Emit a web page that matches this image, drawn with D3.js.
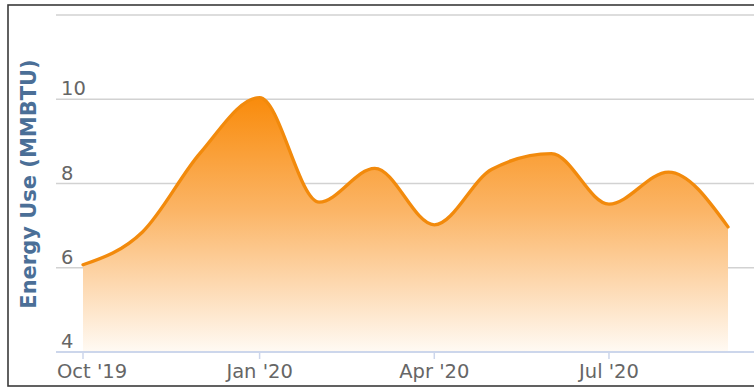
<!DOCTYPE html>
<html>

<head>
    <meta charset="utf-8">
    <title>Energy Use</title>
    <style>
        body {
            margin: 0;
            background: #fff;
        }

        svg {
            font-family: 'DejaVu Sans', Verdana, sans-serif;
        }

        .tick-label {
            fill: #666;
            font-size: 19.5px;
        }

        .grid line {
            stroke: #d2d2d2;
            stroke-width: 1.6;
        }
    </style>
</head>

<body>
    <figure style="margin:0"></figure>

    <script src="https://d3js.org/d3.v7.min.js"></script>

    <script>

        ////////////////////////////////////
        ///////////// Data /////////////////
        ////////////////////////////////////

        // monthly readings, Oct 2019 - Sep 2020
        const months = ['2019-10', '2019-11', '2019-12', '2020-01', '2020-02', '2020-03',
            '2020-04', '2020-05', '2020-06', '2020-07', '2020-08', '2020-09']
        const energyUse = [6.07, 6.85, 8.72, 10.04, 7.56, 8.36, 7.02, 8.34, 8.71, 7.51, 8.27, 6.97]

        const yTicks = [4, 6, 8, 10, 12]
        const xTickDates = ['2019-10', '2020-01', '2020-04', '2020-07']
        const xTickLabels = ["Oct '19", "Jan '20", "Apr '20", "Jul '20"]

        const parseMonth = d3.timeParse('%Y-%m')
        const data = months.map((m, i) => ({ date: parseMonth(m), value: energyUse[i] }))

        ////////////////////////////////////
        ///////////// SVG Setup ////////////
        ////////////////////////////////////

        const width = 754
        const height = 388

        const plot = { left: 56, right: 754, top: 15, bottom: 352 }

        const svg = d3.select('figure')
            .append('svg')
            .attr('width', width)
            .attr('height', height)

        // frame around the chart (right edge falls outside the picture)
        svg.append('rect')
            .attr('x', 8)
            .attr('y', 5)
            .attr('width', 760)
            .attr('height', 381)
            .attr('fill', 'none')
            .attr('stroke', '#3a3a3a')
            .attr('stroke-width', 1.6)

        ////////////////////////////////////
        /////////////// Scales /////////////
        ////////////////////////////////////

        const xScale = d3.scaleTime()
            .domain([parseMonth('2019-10'), parseMonth('2020-09')])
            .range([83, 728])

        const yScale = d3.scaleLinear()
            .domain([4, 12])
            .range([plot.bottom, plot.top])

        // gridlines
        svg.append('g')
            .attr('class', 'grid')
            .selectAll('line')
            .data(yTicks.filter(d => d !== 4))
            .join('line')
            .attr('x1', plot.left)
            .attr('x2', plot.right)
            .attr('y1', d => yScale(d))
            .attr('y2', d => yScale(d))

        // y tick labels sit above their gridline
        svg.append('g')
            .selectAll('text')
            .data(yTicks.filter(d => d !== 12))
            .join('text')
            .attr('class', 'tick-label')
            .attr('x', 61)
            .attr('y', d => yScale(d) - 4)
            .text(d => d)

        ////////////////////////////////////
        /////////////// Draw area //////////
        ////////////////////////////////////

        const defs = svg.append('defs')
        const grad = defs.append('linearGradient')
            .attr('id', 'fillGrad')
            .attr('gradientUnits', 'userSpaceOnUse')
            .attr('x1', 0).attr('x2', 0)
            .attr('y1', yScale(10.05)).attr('y2', plot.bottom)
        grad.append('stop').attr('offset', 0).attr('stop-color', '#f98b0b')
        grad.append('stop').attr('offset', 0.45).attr('stop-color', '#fbb567')
        grad.append('stop').attr('offset', 1).attr('stop-color', '#fffaf4')

        const area = d3.area()
            .x(d => xScale(d.date))
            .y0(plot.bottom)
            .y1(d => yScale(d.value))
            .curve(d3.curveMonotoneX)

        const line = d3.line()
            .x(d => xScale(d.date))
            .y(d => yScale(d.value))
            .curve(d3.curveMonotoneX)

        svg.append('path')
            .datum(data)
            .attr('d', area)
            .attr('fill', 'url(#fillGrad)')

        svg.append('path')
            .datum(data)
            .attr('d', line)
            .attr('fill', 'none')
            .attr('stroke', '#f28a0c')
            .attr('stroke-width', 3.3)
            .attr('stroke-linecap', 'round')

        ////////////////////////////////////
        /////////////// X axis /////////////
        ////////////////////////////////////

        svg.append('line')
            .attr('x1', plot.left)
            .attr('x2', plot.right)
            .attr('y1', plot.bottom)
            .attr('y2', plot.bottom)
            .attr('stroke', '#ccd6eb')
            .attr('stroke-width', 2)

        const xTicks = xTickDates.map((d, i) => ({ date: parseMonth(d), label: xTickLabels[i] }))

        svg.append('g')
            .selectAll('line')
            .data(xTicks)
            .join('line')
            .attr('x1', d => xScale(d.date))
            .attr('x2', d => xScale(d.date))
            .attr('y1', plot.bottom)
            .attr('y2', plot.bottom + 7)
            .attr('stroke', '#ccd6eb')
            .attr('stroke-width', 1.5)

        svg.append('g')
            .selectAll('text')
            .data(xTicks)
            .join('text')
            .attr('class', 'tick-label')
            .attr('x', d => xScale(d.date))
            .attr('y', 378)
            .attr('text-anchor', 'middle')
            .text(d => d.label)
            .each(function () {
                // keep the first label inside the plot edge
                const box = this.getBBox()
                if (box.x < 57) d3.select(this).attr('x', +d3.select(this).attr('x') + (57 - box.x))
            })

        // axis title
        svg.append('text')
            .attr('transform', 'translate(36,184) rotate(-90)')
            .attr('text-anchor', 'middle')
            .attr('fill', '#4b6f97')
            .attr('font-size', '21px')
            .attr('font-weight', 'bold')
            .text('Energy Use (MMBTU)')

    </script>
</body>

</html>
